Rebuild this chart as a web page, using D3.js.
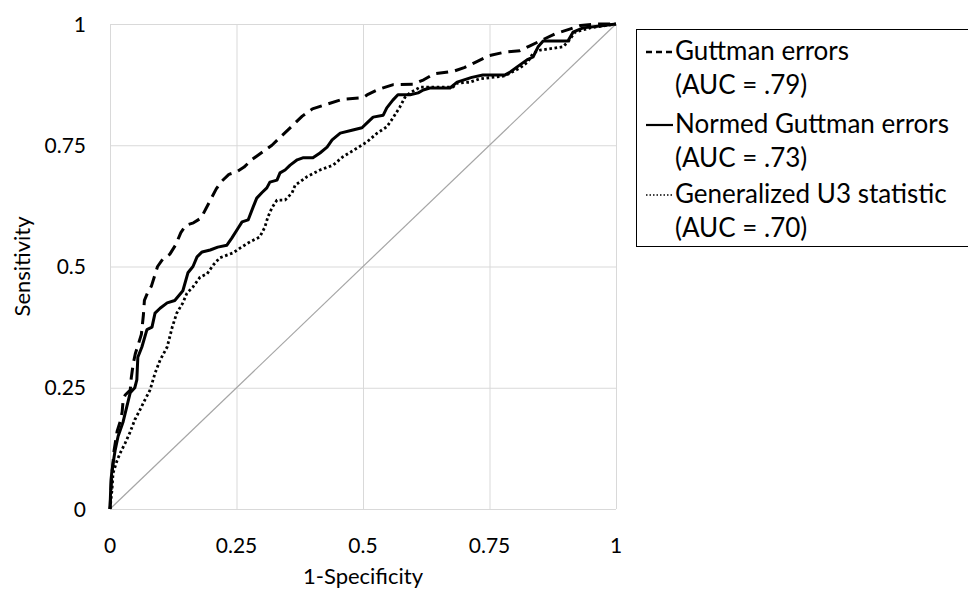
<!DOCTYPE html>
<html lang="en">
<head>
    <meta charset="UTF-8">
    <script src="https://cdnjs.cloudflare.com/ajax/libs/d3/7.8.5/d3.min.js"></script>
    <title>ROC curves</title>
    <style>
        body { margin: 0; background: white; }
        svg { font-family: Lato, "Open Sans", sans-serif; }
        .grid line { stroke: #d9d9d9; stroke-width: 1px; }
        .tick-label { font-size: 21px; fill: #000; }
        .axis-title { font-size: 22px; fill: #000; }
        .legend-text { font-size: 26px; fill: #000; }
    </style>
</head>
<body>
    <div id="chart"></div>
    <script>
        // ROC points [1-specificity, sensitivity]
        const guttman = [
            [0, 0], [0.003, 0.06], [0.008, 0.12], [0.014, 0.16], [0.02, 0.18], [0.024, 0.2],
            [0.026, 0.225], [0.03, 0.235], [0.04, 0.245], [0.042, 0.27], [0.046, 0.3], [0.05, 0.32],
            [0.056, 0.34], [0.062, 0.36], [0.064, 0.38], [0.066, 0.4], [0.068, 0.43], [0.074, 0.445],
            [0.082, 0.46], [0.088, 0.48], [0.094, 0.5], [0.104, 0.515], [0.118, 0.525], [0.13, 0.545],
            [0.14, 0.57], [0.15, 0.585], [0.165, 0.59], [0.18, 0.6], [0.19, 0.62], [0.2, 0.64],
            [0.21, 0.66], [0.22, 0.675], [0.235, 0.69], [0.25, 0.695], [0.265, 0.705], [0.28, 0.72],
            [0.3, 0.735], [0.32, 0.75], [0.34, 0.77], [0.36, 0.79], [0.38, 0.81], [0.4, 0.825],
            [0.43, 0.835], [0.46, 0.845], [0.5, 0.848], [0.51, 0.855], [0.53, 0.865], [0.56, 0.875],
            [0.6, 0.876], [0.62, 0.885], [0.64, 0.897], [0.68, 0.903], [0.7, 0.91], [0.72, 0.92],
            [0.75, 0.935], [0.78, 0.942], [0.81, 0.945], [0.83, 0.955], [0.85, 0.965], [0.88, 0.98],
            [0.91, 0.99], [0.93, 0.997], [0.96, 1], [1, 1]
        ];
        const normed = [
            [0, 0], [0.002, 0.06], [0.004, 0.08], [0.01, 0.12], [0.016, 0.15], [0.026, 0.18],
            [0.04, 0.24], [0.049, 0.25], [0.053, 0.266], [0.055, 0.313], [0.063, 0.334], [0.073, 0.37],
            [0.083, 0.375], [0.089, 0.404], [0.099, 0.414], [0.113, 0.425], [0.128, 0.43], [0.144, 0.45],
            [0.154, 0.487], [0.164, 0.5], [0.172, 0.52], [0.182, 0.53], [0.198, 0.534], [0.213, 0.54],
            [0.231, 0.544], [0.241, 0.559], [0.253, 0.579], [0.261, 0.592], [0.273, 0.596], [0.283, 0.623],
            [0.29, 0.641], [0.3, 0.652], [0.31, 0.662], [0.316, 0.674], [0.33, 0.678], [0.336, 0.693],
            [0.346, 0.699], [0.356, 0.709], [0.37, 0.72], [0.381, 0.724], [0.401, 0.724], [0.415, 0.734],
            [0.429, 0.746], [0.439, 0.761], [0.455, 0.775], [0.478, 0.781], [0.498, 0.786], [0.508, 0.796],
            [0.52, 0.808], [0.54, 0.812], [0.547, 0.827], [0.559, 0.843], [0.569, 0.854], [0.593, 0.854],
            [0.609, 0.858], [0.619, 0.864], [0.632, 0.868], [0.672, 0.868], [0.686, 0.88], [0.715, 0.89],
            [0.737, 0.895], [0.781, 0.895], [0.791, 0.901], [0.804, 0.911], [0.824, 0.926], [0.836, 0.932],
            [0.846, 0.953], [0.856, 0.965], [0.905, 0.965], [0.915, 0.983], [0.935, 0.992], [0.968, 0.996],
            [1, 1]
        ];
        const u3 = [
            [0, 0], [0.004, 0.04], [0.006, 0.074], [0.014, 0.1], [0.02, 0.115], [0.03, 0.136],
            [0.04, 0.159], [0.049, 0.184], [0.059, 0.204], [0.069, 0.225], [0.079, 0.245], [0.089, 0.28],
            [0.099, 0.307], [0.113, 0.334], [0.123, 0.375], [0.132, 0.404], [0.144, 0.425], [0.152, 0.445],
            [0.164, 0.458], [0.178, 0.478], [0.192, 0.485], [0.204, 0.503], [0.217, 0.518], [0.243, 0.528],
            [0.257, 0.538], [0.277, 0.551], [0.296, 0.561], [0.306, 0.581], [0.312, 0.602], [0.32, 0.621],
            [0.33, 0.637], [0.346, 0.637], [0.36, 0.652], [0.366, 0.668], [0.375, 0.674], [0.389, 0.685],
            [0.415, 0.699], [0.441, 0.709], [0.46, 0.726], [0.488, 0.744], [0.508, 0.757], [0.528, 0.775],
            [0.547, 0.788], [0.559, 0.806], [0.573, 0.829], [0.583, 0.849], [0.593, 0.858], [0.613, 0.87],
            [0.678, 0.87], [0.686, 0.878], [0.711, 0.88], [0.731, 0.887], [0.781, 0.893], [0.791, 0.899],
            [0.81, 0.909], [0.826, 0.922], [0.836, 0.94], [0.85, 0.946], [0.895, 0.953], [0.905, 0.963],
            [0.919, 0.983], [0.949, 0.992], [1, 1]
        ];
        const chance = [[0, 0], [1, 1]];

        const ticks = [0, 0.25, 0.5, 0.75, 1];
        const tickLabels = ["0", "0.25", "0.5", "0.75", "1"];

        const seriesNames = ["Guttman errors", "Normed Guttman errors", "Generalized U3 statistic"];
        const aucLabels = ["(AUC = .79)", "(AUC = .73)", "(AUC = .70)"];

        const width = 968, height = 590;
        const plot = { left: 110, right: 616, top: 24, bottom: 509 };

        const x = d3.scaleLinear().domain([0, 1]).range([plot.left, plot.right]);
        const y = d3.scaleLinear().domain([0, 1]).range([plot.bottom, plot.top]);

        const svg = d3.select("#chart").append("svg")
            .attr("width", width)
            .attr("height", height);

        // grid
        const grid = svg.append("g").attr("class", "grid");
        grid.selectAll(".vx").data(ticks).enter().append("line")
            .attr("x1", d => x(d) + 0.5).attr("x2", d => x(d) + 0.5)
            .attr("y1", y(0)).attr("y2", y(1));
        grid.selectAll(".hy").data(ticks).enter().append("line")
            .attr("y1", d => y(d) + 0.5).attr("y2", d => y(d) + 0.5)
            .attr("x1", x(0)).attr("x2", x(1));

        // tick labels
        svg.selectAll(".xt").data(ticks).enter().append("text")
            .attr("class", "tick-label")
            .attr("x", d => x(d))
            .attr("y", 553)
            .attr("text-anchor", "middle")
            .text((d, i) => tickLabels[i]);
        svg.selectAll(".yt").data(ticks).enter().append("text")
            .attr("class", "tick-label")
            .attr("x", 86)
            .attr("y", d => y(d) + 7.5)
            .attr("text-anchor", "end")
            .text((d, i) => tickLabels[i]);

        // axis titles
        svg.append("text")
            .attr("class", "axis-title")
            .attr("x", (plot.left + plot.right) / 2).attr("y", 584)
            .attr("text-anchor", "middle")
            .text("1-Specificity");
        svg.append("text")
            .attr("class", "axis-title")
            .attr("transform", `translate(30,${(plot.top + plot.bottom) / 2}) rotate(-90)`)
            .attr("text-anchor", "middle")
            .text("Sensitivity");

        const line = d3.line().x(d => x(d[0])).y(d => y(d[1]));

        svg.append("path").datum(chance)
            .attr("d", line).attr("fill", "none")
            .attr("stroke", "#a6a6a6").attr("stroke-width", 1.2);

        const styles = [
            { dash: "12,7", width: 3 },
            { dash: null, width: 3 },
            { dash: "2.6,2.6", width: 2.8 }
        ];
        const legendStyles = [
            { dash: "6,4", width: 2.5 },
            { dash: null, width: 2.2 },
            { dash: "1.5,2", width: 1.5 }
        ];

        [guttman, normed, u3].forEach((s, i) => {
            svg.append("path").datum(s)
                .attr("d", line)
                .attr("fill", "none")
                .attr("stroke", "#000")
                .attr("stroke-width", styles[i].width)
                .attr("stroke-linejoin", "round")
                .attr("stroke-dasharray", styles[i].dash);
        });

        // legend
        const lg = svg.append("g");
        lg.append("rect")
            .attr("x", 636.5).attr("y", 29.5)
            .attr("width", 360).attr("height", 217)
            .attr("fill", "white").attr("stroke", "#000").attr("stroke-width", 1);

        const rowY = [52, 125, 195];
        seriesNames.forEach((name, i) => {
            lg.append("line")
                .attr("x1", 646).attr("x2", 673)
                .attr("y1", rowY[i]).attr("y2", rowY[i])
                .attr("stroke", "#000")
                .attr("stroke-width", legendStyles[i].width)
                .attr("stroke-dasharray", legendStyles[i].dash);
            lg.append("text").attr("class", "legend-text")
                .attr("x", 675).attr("y", rowY[i] + 8)
                .text(name);
            lg.append("text").attr("class", "legend-text")
                .attr("x", 675).attr("y", rowY[i] + 42)
                .text(aucLabels[i]);
        });
    </script>
</body>
</html>
